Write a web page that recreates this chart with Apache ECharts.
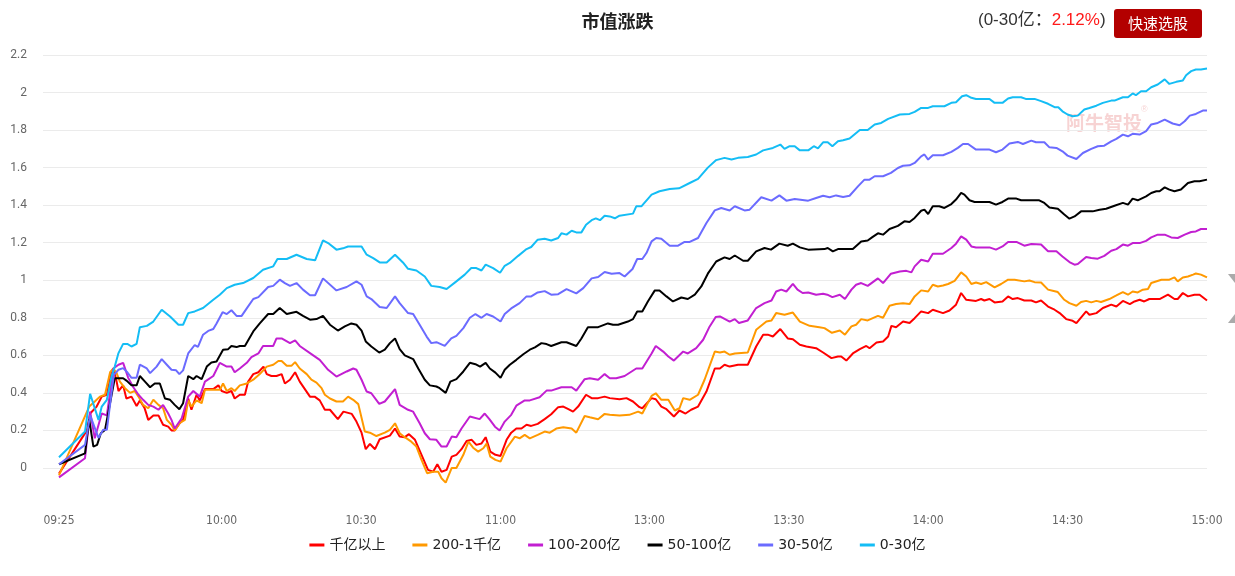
<!DOCTYPE html>
<html><head><meta charset="utf-8">
<script src="https://cdn.jsdelivr.net/npm/echarts@6/dist/echarts.min.js"></script>
<style>html,body{margin:0;padding:0;background:#fff}#c{width:1235px;height:576px}</style>
</head><body><div id="c"></div>
<script>
// x positions are minute indices: 09:25 = 0, 11:30 = 125, 13:00 = 127, 15:00 = 247
const tickIdx = [0, 35, 65, 95, 127, 157, 187, 217, 247];
const tickLabels = ['09:25','10:00','10:30','11:00','13:00','13:30','14:00','14:30','15:00'];
const seriesNames = ['千亿以上','200-1千亿','100-200亿','50-100亿','30-50亿','0-30亿'];
const seriesColors = ['#ff0000','#ff9900','#c21fd1','#000000','#6b6bff','#14bdf5'];

const s1000 = [[0,-0.03],[6,0.20],[6.7,0.29],[8.1,0.327],[9.2,0.38],[10.3,0.39],[11.3,0.51],[11.7,0.53],[12.4,0.46],[12.8,0.41],[13.8,0.44],[14.5,0.37],[15.6,0.38],[16.7,0.33],[17.4,0.36],[18.4,0.32],[19.2,0.256],[20.3,0.28],[21.4,0.28],[22.4,0.23],[23.5,0.22],[24.2,0.20],[24.9,0.20],[26,0.24],[26.7,0.256],[27.8,0.37],[28.5,0.31],[29.6,0.39],[30.3,0.36],[31.4,0.42],[33.2,0.42],[34.3,0.44],[35,0.41],[36.1,0.40],[37.1,0.41],[37.8,0.37],[38.9,0.39],[40,0.39],[40.7,0.46],[41.8,0.50],[42.9,0.51],[44,0.54],[44.7,0.50],[45.7,0.49],[46.8,0.49],[47.9,0.50],[48.6,0.45],[49.7,0.47],[50.8,0.51],[51.8,0.46],[52.9,0.42],[54,0.38],[55,0.38],[56.1,0.36],[57.2,0.31],[58.3,0.31],[60,0.26],[61.2,0.30],[63,0.288],[64,0.247],[65.1,0.188],[66,0.10],[66.9,0.128],[68,0.10],[69,0.153],[71.2,0.172],[72.3,0.21],[73.3,0.167],[74.4,0.164],[75.3,0.18],[76.6,0.15],[78,0.07],[79.4,-0.01],[80.5,-0.02],[81.4,0.02],[82.3,-0.02],[83.4,-0.01],[84.5,0.06],[85.5,0.07],[86.6,0.10],[87.7,0.144],[88.8,0.15],[89.8,0.123],[90.9,0.13],[91.8,0.164],[92.8,0.087],[93.9,0.07],[95,0.064],[96.3,0.15],[97.3,0.188],[98.4,0.21],[99.5,0.21],[100.6,0.23],[101.6,0.224],[103,0.235],[104.5,0.26],[105.9,0.286],[107.4,0.324],[108.5,0.327],[109.6,0.313],[110.6,0.30],[111.7,0.327],[113.4,0.39],[114.6,0.372],[116,0.372],[117.4,0.38],[118.5,0.372],[120.6,0.366],[122.1,0.372],[123.5,0.354],[124.9,0.324],[125.5,0.318],[127.5,0.372],[128.4,0.366],[129.6,0.327],[130.7,0.313],[132.3,0.274],[133.5,0.306],[134.8,0.29],[136,0.31],[137.5,0.327],[139.3,0.407],[141.1,0.53],[142.2,0.53],[143.2,0.55],[144.3,0.54],[146.1,0.55],[148.2,0.55],[150,0.647],[151.5,0.71],[152.5,0.71],[153.6,0.70],[155.2,0.74],[156.8,0.69],[157.9,0.686],[159.4,0.656],[160.8,0.647],[162.9,0.638],[164.4,0.615],[166.2,0.585],[167.6,0.594],[168.3,0.594],[169.4,0.572],[170.8,0.61],[172.3,0.633],[173.7,0.65],[174.4,0.638],[175.9,0.668],[177.3,0.674],[178.4,0.70],[179.1,0.757],[180.1,0.75],[181.6,0.78],[183,0.772],[184.1,0.798],[185.5,0.834],[187,0.825],[188,0.843],[190.2,0.825],[191.6,0.839],[193,0.87],[194.1,0.932],[195.2,0.896],[197.3,0.89],[198.4,0.90],[199.1,0.892],[200.2,0.90],[201.3,0.882],[203,0.887],[204.2,0.914],[205.2,0.90],[206.3,0.905],[207.7,0.892],[209.2,0.892],[210.2,0.882],[211.3,0.892],[212.8,0.86],[214.2,0.843],[215.3,0.825],[216.7,0.793],[218.1,0.784],[218.9,0.772],[221,0.834],[221.7,0.816],[223.2,0.825],[224.6,0.852],[226.4,0.87],[227.5,0.86],[228.9,0.89],[230.4,0.873],[231.4,0.887],[232.5,0.896],[233.5,0.887],[234.6,0.90],[236.8,0.90],[238.6,0.923],[240,0.90],[240.7,0.90],[241.8,0.932],[242.9,0.914],[244.3,0.923],[245.4,0.923],[247,0.892]];

const s200 = [[0,-0.04],[6.5,0.327],[7.7,0.354],[8.8,0.38],[9.9,0.39],[11,0.51],[11.7,0.53],[12.4,0.505],[13.1,0.46],[14.2,0.425],[15.3,0.40],[16.3,0.41],[17.1,0.38],[18.1,0.336],[19.2,0.318],[20.3,0.363],[21.4,0.336],[22.4,0.318],[23.2,0.256],[24.2,0.23],[24.9,0.20],[26,0.24],[27.1,0.256],[27.8,0.36],[28.5,0.327],[29.6,0.36],[30.7,0.345],[31.4,0.416],[33.2,0.416],[34.6,0.416],[35.3,0.45],[36.1,0.41],[37.1,0.425],[37.8,0.41],[38.9,0.44],[40.4,0.45],[41.8,0.47],[43.2,0.50],[44.7,0.54],[46.1,0.55],[47.2,0.57],[47.9,0.57],[49,0.544],[50,0.544],[50.8,0.564],[51.8,0.53],[53.3,0.50],[54.3,0.47],[55.4,0.455],[56.5,0.425],[57.2,0.39],[58.3,0.37],[59.7,0.354],[61.1,0.354],[62.2,0.38],[63.3,0.363],[64.4,0.34],[65.8,0.194],[66.9,0.188],[68.3,0.17],[70.1,0.188],[71.2,0.203],[72.3,0.238],[73.3,0.185],[74.4,0.164],[75.8,0.14],[76.9,0.114],[78,0.043],[79.2,-0.028],[80.5,-0.02],[81.6,-0.02],[82.3,-0.055],[83.2,-0.078],[84.5,0],[85.5,0],[87,0.07],[88.1,0.14],[89.1,0.108],[90.2,0.087],[91.3,0.105],[92,0.13],[92.8,0.06],[93.9,0.043],[95,0.034],[96.3,0.105],[98.1,0.167],[99.1,0.158],[100.2,0.176],[101.3,0.158],[103,0.176],[104.5,0.194],[105.6,0.188],[107,0.21],[108.5,0.217],[110.3,0.21],[111.3,0.188],[113.1,0.277],[114.2,0.27],[116,0.26],[117.4,0.288],[118.5,0.283],[120.6,0.28],[122.7,0.283],[124.6,0.30],[125.5,0.29],[127.5,0.384],[128.4,0.398],[129.6,0.363],[131.1,0.363],[132.5,0.306],[133.5,0.318],[134.3,0.372],[135.7,0.363],[137.5,0.39],[138.9,0.47],[141.1,0.62],[142.2,0.615],[143.2,0.62],[144.3,0.603],[145.4,0.61],[148.2,0.615],[150,0.736],[152.2,0.78],[153.3,0.786],[154.3,0.825],[156.1,0.816],[157.9,0.828],[159.4,0.78],[161.5,0.757],[163.6,0.75],[164.7,0.745],[166.3,0.72],[168,0.732],[169.1,0.71],[170.5,0.754],[171.5,0.763],[172.6,0.793],[174,0.786],[176.2,0.81],[177.3,0.80],[178.7,0.864],[180.1,0.873],[181.6,0.878],[183,0.873],[184.1,0.914],[185.5,0.946],[187,0.94],[188,0.976],[189.1,0.967],[190.2,0.972],[191.3,0.98],[192.7,0.997],[194.1,1.042],[195.2,1.02],[196.3,0.98],[197.3,0.988],[198.4,0.98],[199.5,0.99],[201.3,0.962],[202.7,0.98],[204.2,1.003],[205.6,1.003],[207.7,0.994],[208.8,0.999],[209.9,0.99],[211.3,0.988],[212.8,0.95],[213.8,0.944],[214.9,0.937],[216.3,0.896],[217.4,0.878],[218.9,0.864],[219.9,0.884],[221,0.89],[222.1,0.882],[223.2,0.89],[224.2,0.884],[226,0.90],[227.5,0.919],[228.9,0.937],[230,0.923],[231,0.94],[232.1,0.935],[233.2,0.95],[234.3,0.953],[235,0.985],[237.2,1.003],[238.9,1.003],[240,1.015],[240.7,0.994],[241.8,1.015],[242.9,1.02],[244,1.03],[244.6,1.036],[245.7,1.03],[247,1.015]];

const s100 = [[0,-0.05],[5.6,0.052],[6.7,0.30],[7.7,0.158],[9.2,0.29],[10.3,0.28],[11.7,0.53],[12.8,0.55],[13.8,0.56],[14.9,0.48],[16,0.43],[17.1,0.39],[18.1,0.363],[19.2,0.336],[20.3,0.327],[21.4,0.31],[22.4,0.336],[23.5,0.29],[24.2,0.256],[24.9,0.21],[26.4,0.265],[27.8,0.38],[28.9,0.41],[30.3,0.38],[31.4,0.46],[33.2,0.49],[34.6,0.56],[36.1,0.54],[37.1,0.54],[37.8,0.51],[38.9,0.53],[40.4,0.56],[41.4,0.59],[42.9,0.61],[43.9,0.65],[46.1,0.65],[46.8,0.69],[47.9,0.69],[49.7,0.665],[50.8,0.68],[51.8,0.65],[54.7,0.60],[56.1,0.576],[57.9,0.523],[59.7,0.487],[61.9,0.514],[63.3,0.53],[64,0.523],[65.1,0.47],[66.2,0.407],[67.2,0.398],[68.9,0.341],[70.1,0.354],[72.3,0.42],[73.3,0.336],[75.1,0.31],[76.2,0.30],[77.6,0.238],[78.7,0.185],[79.8,0.153],[81.2,0.15],[82.3,0.114],[83.4,0.114],[84.5,0.167],[85.5,0.164],[86.6,0.21],[88.4,0.274],[90.5,0.26],[91.6,0.29],[92.6,0.26],[93.8,0.22],[94.8,0.20],[95.9,0.247],[97.3,0.283],[98.4,0.332],[100.2,0.36],[101.3,0.36],[103.4,0.377],[104.9,0.412],[105.9,0.412],[108.1,0.43],[110.3,0.43],[111.3,0.412],[113.1,0.473],[114.2,0.478],[116,0.47],[117.4,0.50],[118.5,0.478],[119.9,0.478],[121.7,0.49],[123.2,0.514],[124.2,0.53],[125.5,0.53],[127.5,0.61],[128.4,0.65],[130,0.62],[131.1,0.594],[132.3,0.572],[134.3,0.62],[135.3,0.61],[137.1,0.638],[138.6,0.683],[140,0.754],[141.3,0.804],[142.2,0.807],[144.3,0.78],[145.4,0.793],[146.3,0.772],[148.2,0.786],[150,0.852],[151.8,0.878],[153.3,0.892],[154.3,0.94],[155.4,0.95],[156.5,0.94],[157.9,0.981],[158.9,0.95],[160,0.932],[161.2,0.935],[162.9,0.923],[164.4,0.928],[165.3,0.923],[166.4,0.91],[168,0.923],[169.1,0.90],[170.5,0.95],[171.5,0.976],[172.6,0.985],[174,0.97],[176.2,1.01],[177.3,0.985],[179,1.035],[180.9,1.047],[182.3,1.05],[183.4,1.042],[184.1,1.074],[185.5,1.109],[187,1.10],[188,1.141],[190.2,1.141],[192,1.172],[193,1.195],[194.1,1.234],[195.2,1.216],[196.3,1.18],[197.3,1.175],[200.2,1.175],[201.6,1.163],[203,1.18],[204.2,1.204],[206,1.204],[207.7,1.184],[209.2,1.193],[211.3,1.19],[212.8,1.154],[214.6,1.154],[215.9,1.127],[217.4,1.097],[218.5,1.083],[219.2,1.086],[221,1.124],[222.1,1.118],[223.5,1.115],[224.9,1.13],[226.4,1.157],[227.5,1.166],[228.9,1.19],[230,1.184],[231,1.198],[232.5,1.198],[233.9,1.21],[235,1.228],[236.4,1.243],[237.9,1.243],[239.3,1.228],[240.7,1.225],[242.2,1.243],[243.6,1.257],[244.6,1.26],[245.7,1.273],[247,1.273]];

const s50 = [[0,0.02],[5.6,0.078],[6.5,0.26],[7.4,0.114],[8.2,0.123],[9,0.185],[9.9,0.203],[12,0.478],[13.8,0.478],[14.6,0.464],[15.6,0.44],[16.7,0.44],[17.4,0.49],[18.5,0.46],[19.6,0.43],[20.6,0.45],[21.7,0.45],[22.8,0.37],[23.9,0.363],[24.9,0.336],[25.9,0.313],[26.7,0.345],[27.8,0.49],[28.9,0.473],[29.6,0.49],[30.7,0.473],[31.8,0.54],[32.8,0.562],[33.9,0.567],[35.3,0.63],[36.4,0.633],[37.1,0.65],[38.2,0.644],[38.9,0.65],[40,0.65],[41.8,0.727],[43.2,0.77],[45,0.82],[46.1,0.82],[47.5,0.852],[49,0.82],[51.1,0.832],[52.5,0.81],[54,0.79],[55.4,0.793],[56.8,0.81],[58.3,0.763],[60,0.732],[61.5,0.754],[62.9,0.77],[64,0.763],[65.1,0.732],[66,0.674],[67.2,0.647],[68.9,0.615],[70.1,0.63],[71.2,0.665],[72.3,0.69],[73.3,0.633],[74.4,0.60],[76.2,0.58],[77.3,0.53],[78.7,0.47],[79.8,0.44],[81.2,0.434],[81.9,0.425],[83.2,0.40],[84.2,0.46],[85.5,0.473],[87,0.514],[88.4,0.56],[89.6,0.553],[90.6,0.54],[91.8,0.56],[92.7,0.53],[93.9,0.508],[95,0.48],[95.9,0.523],[97,0.55],[98.4,0.576],[99.9,0.606],[101.3,0.63],[102.4,0.642],[103.8,0.665],[104.9,0.66],[105.9,0.65],[108.1,0.67],[109.2,0.67],[111.3,0.65],[112.4,0.69],[113.8,0.75],[116,0.75],[118.1,0.77],[119.2,0.763],[120.3,0.763],[122.4,0.78],[123.5,0.793],[124.4,0.834],[125.5,0.834],[126.7,0.887],[128.2,0.946],[129.2,0.946],[130.7,0.914],[132.1,0.887],[133.9,0.908],[135.3,0.90],[136.8,0.923],[138.2,0.967],[139.6,1.035],[141.4,1.10],[143.2,1.122],[144.3,1.113],[145.4,1.132],[147.2,1.104],[148.2,1.104],[150,1.154],[151.8,1.172],[153.2,1.163],[155,1.195],[156.8,1.184],[157.9,1.195],[159.4,1.175],[161.2,1.163],[164.7,1.166],[165.4,1.172],[166.5,1.154],[167.6,1.166],[170.8,1.166],[172.6,1.207],[174,1.212],[175,1.23],[176.2,1.25],[177.3,1.243],[178.7,1.273],[180.5,1.29],[181.9,1.314],[183,1.31],[184.1,1.332],[185.5,1.37],[186.2,1.376],[187,1.353],[188,1.394],[189.4,1.394],[190.5,1.385],[192,1.406],[193,1.43],[194.1,1.465],[194.8,1.456],[195.9,1.426],[197,1.417],[200.2,1.417],[201.6,1.403],[203,1.417],[204.2,1.435],[206,1.435],[207,1.426],[210.9,1.426],[212,1.412],[213.1,1.388],[214.9,1.381],[216.3,1.35],[217.4,1.328],[218.5,1.34],[219.9,1.367],[222.4,1.367],[223.9,1.376],[225.3,1.381],[227.1,1.397],[228.9,1.412],[230,1.403],[231,1.435],[232.1,1.426],[233.9,1.447],[235,1.465],[236.1,1.474],[236.8,1.474],[237.9,1.495],[238.9,1.483],[240,1.474],[241.4,1.483],[242.9,1.518],[244.3,1.527],[245.4,1.527],[247,1.536]];

const s30 = [[0,0.02],[5.6,0.123],[6.7,0.28],[8.5,0.16],[9.5,0.203],[10.3,0.203],[11.8,0.496],[12.8,0.523],[13.8,0.532],[14.7,0.51],[15.6,0.48],[16.7,0.48],[17.4,0.55],[18.9,0.53],[19.6,0.505],[21,0.54],[22.1,0.58],[23.2,0.55],[24.2,0.523],[25.2,0.52],[25.9,0.50],[26.7,0.52],[27.8,0.61],[29.2,0.655],[29.9,0.645],[31,0.71],[32.1,0.73],[33.2,0.74],[33.9,0.77],[35.2,0.83],[36.1,0.82],[37.1,0.84],[38.2,0.81],[39.3,0.81],[40.4,0.85],[41.8,0.90],[42.9,0.91],[45,0.964],[46.1,0.97],[47.5,1.003],[48.6,0.985],[49.7,0.97],[51.1,0.985],[52.5,0.95],[54,0.92],[55.1,0.92],[56.8,1.01],[59.7,0.946],[61.9,0.964],[64,0.994],[65.1,0.976],[66.2,0.914],[67.2,0.90],[69,0.857],[70.5,0.852],[72.3,0.914],[73.3,0.878],[75.1,0.825],[76.2,0.82],[77.6,0.763],[79.1,0.70],[80.1,0.665],[81.2,0.67],[83,0.65],[84.4,0.69],[85.5,0.704],[87,0.745],[88.4,0.80],[89.6,0.82],[90.9,0.80],[92,0.82],[93.4,0.807],[95,0.78],[95.9,0.82],[97.3,0.85],[99.1,0.878],[100.6,0.914],[101.6,0.914],[103,0.935],[104.5,0.942],[105.9,0.923],[107.4,0.926],[109.2,0.953],[111.3,0.93],[112.8,0.958],[114.6,1.01],[116,1.017],[117.4,1.044],[118.9,1.035],[120.6,1.038],[121.7,1.02],[123.4,1.06],[124.4,1.113],[125.5,1.113],[126.4,1.145],[127.5,1.207],[128.5,1.225],[129.6,1.221],[131.4,1.184],[133.2,1.184],[134.6,1.204],[135.7,1.204],[137.5,1.225],[139.3,1.305],[141.1,1.372],[142.5,1.385],[144.3,1.372],[145.4,1.394],[147.5,1.372],[148.6,1.376],[151.1,1.442],[153.3,1.424],[155,1.452],[156.5,1.424],[158.3,1.433],[161.2,1.424],[162.9,1.438],[164.4,1.45],[165.8,1.442],[167.2,1.452],[168.7,1.444],[170.1,1.45],[171.9,1.50],[173.3,1.536],[174.4,1.536],[175.5,1.554],[177.3,1.554],[179,1.572],[180.5,1.598],[181.6,1.61],[183,1.612],[184.1,1.625],[185.5,1.66],[186.2,1.67],[187,1.643],[188,1.666],[190.2,1.666],[192,1.684],[193.4,1.705],[194.5,1.726],[195.6,1.726],[197.3,1.696],[200.2,1.696],[201.6,1.682],[203,1.696],[204.5,1.728],[206.3,1.737],[207.4,1.726],[209.2,1.744],[210.2,1.735],[212,1.735],[213.1,1.708],[214.6,1.705],[215.9,1.687],[217,1.664],[218.9,1.646],[220.3,1.678],[222.1,1.70],[223.5,1.714],[224.9,1.717],[226.4,1.74],[227.5,1.753],[228.9,1.776],[230,1.767],[231,1.78],[232.5,1.776],[233.9,1.794],[235,1.83],[236.4,1.838],[237.9,1.856],[239.6,1.835],[241.1,1.826],[242.2,1.847],[243.3,1.877],[244.6,1.886],[246.1,1.904],[247,1.904]];

const s0 = [[0,0.057],[5.6,0.194],[6.7,0.395],[8.5,0.256],[9.2,0.327],[10.3,0.363],[11.3,0.487],[12,0.54],[12.8,0.612],[13.8,0.661],[14.7,0.661],[15.6,0.647],[16.7,0.661],[17.4,0.75],[18.9,0.757],[20.3,0.78],[22.1,0.843],[23.9,0.807],[25.7,0.763],[26.7,0.763],[27.8,0.825],[29.2,0.834],[31,0.852],[33.2,0.896],[34.6,0.923],[36.1,0.958],[37.8,0.976],[39.6,0.985],[41.8,1.012],[43.9,1.056],[46.1,1.074],[47,1.113],[49,1.113],[51.1,1.136],[53.3,1.113],[55.1,1.106],[56.8,1.212],[57.9,1.198],[59.7,1.163],[61.1,1.17],[62.2,1.18],[65.1,1.18],[66.2,1.136],[67.6,1.118],[69,1.095],[70.5,1.095],[72.3,1.136],[74,1.095],[75.1,1.061],[76.9,1.052],[78.7,1.02],[80.1,0.97],[81.9,0.964],[83.4,0.953],[85.5,0.994],[87.3,1.03],[88.7,1.065],[89.8,1.065],[90.9,1.052],[91.8,1.083],[93.4,1.065],[94.9,1.04],[95.9,1.077],[97,1.092],[98.8,1.13],[100.6,1.166],[101.6,1.177],[103,1.216],[104.5,1.221],[105.9,1.212],[107.4,1.225],[108.1,1.25],[109.2,1.243],[110.3,1.264],[111.3,1.255],[112.4,1.255],[113.4,1.296],[114.6,1.32],[115.5,1.33],[116.4,1.32],[117.4,1.344],[118.5,1.34],[119.6,1.33],[120.6,1.344],[123.5,1.355],[124.2,1.394],[125.3,1.394],[127.5,1.456],[129.2,1.474],[131.4,1.486],[133.4,1.49],[135.7,1.518],[137.5,1.54],[139.6,1.6],[141.4,1.64],[143.2,1.652],[144.7,1.643],[146.1,1.652],[148.2,1.657],[150,1.67],[151.5,1.692],[153.6,1.705],[155.2,1.723],[156.1,1.70],[157.2,1.714],[158.3,1.714],[159.4,1.692],[161.2,1.692],[162.4,1.714],[163.3,1.703],[164.4,1.735],[165.4,1.735],[166.4,1.714],[167.6,1.74],[168.7,1.746],[170.1,1.755],[172.3,1.80],[174,1.80],[175.5,1.83],[176.9,1.838],[178.4,1.86],[180.9,1.883],[183,1.886],[184.1,1.897],[185.5,1.918],[187,1.918],[188,1.927],[190.5,1.927],[192,1.945],[193,1.948],[194.3,1.98],[195.2,1.986],[196.3,1.972],[197.3,1.966],[200.2,1.966],[201.3,1.945],[203,1.945],[204.2,1.968],[205.2,1.975],[207,1.975],[208,1.966],[209.9,1.966],[211.3,1.954],[212.8,1.94],[214.2,1.922],[215,1.922],[215.9,1.90],[217,1.883],[218.1,1.874],[219.2,1.877],[220.6,1.91],[221.7,1.918],[223.2,1.93],[224.6,1.945],[226.4,1.957],[227.1,1.957],[228.9,1.975],[230,1.975],[231,1.995],[231.7,1.986],[232.8,2.007],[233.9,2.007],[235,2.028],[236.4,2.043],[237.9,2.07],[238.9,2.046],[240.4,2.057],[241.8,2.064],[242.5,2.092],[243.6,2.114],[244.6,2.123],[245.7,2.123],[247,2.128]];

const allSeries = [s1000, s200, s100, s50, s30, s0];
const labelMap = {};
tickIdx.forEach((v, k) => { labelMap[v] = tickLabels[k]; });

const chart = echarts.init(document.getElementById('c'), null, {renderer: 'canvas'});
chart.setOption({
  animation: false,
  backgroundColor: '#fff',
  title: {
    text: '市值涨跌', left: 'center', top: 7,
    textStyle: {fontSize: 18, fontWeight: 'bold', color: '#222', fontFamily: 'Noto Sans CJK SC'}
  },
  grid: {left: 43, right: 28, top: 55, bottom: 70.5},
  legend: {
    bottom: 19, left: 'center', itemGap: 27, itemWidth: 15, itemHeight: 3, icon: 'rect',
    textStyle: {fontSize: 14, color: '#222', fontFamily: 'DejaVu Sans, Noto Sans CJK SC'},
    data: seriesNames
  },
  xAxis: {
    type: 'value', min: -3.44, max: 247,
    axisLine: {show: false}, axisTick: {show: false}, splitLine: {show: false},
    axisLabel: {
      customValues: tickIdx, margin: 9, fontSize: 12, color: '#666',
      fontFamily: 'DejaVu Sans Condensed, sans-serif',
      formatter: v => labelMap[v] || ''
    }
  },
  yAxis: {
    type: 'value', min: -0.2, max: 2.2, interval: 0.2,
    axisLine: {show: false}, axisTick: {show: false},
    splitLine: {show: true, showMinLine: false, lineStyle: {color: '#ebebeb', width: 1}},
    axisLabel: {showMinLabel: false, margin: 16, fontSize: 12, color: '#666', fontFamily: 'Roboto, sans-serif'}
  },
  series: seriesNames.map((n, k) => ({
    name: n, type: 'line', data: allSeries[k], showSymbol: false, symbol: 'none',
    color: seriesColors[k], lineStyle: {width: 2, color: seriesColors[k]}
  })),
  graphic: [
    {type: 'text', left: 978, top: 12, style: {
      text: '{a|(0-30亿：}{b|2.12%}{a|)}',
      rich: {
        a: {fontSize: 17, fill: '#333', fontFamily: 'Liberation Sans, Noto Sans CJK SC'},
        b: {fontSize: 17, fill: '#ff1a1a', fontFamily: 'Liberation Sans, Noto Sans CJK SC'}
      }
    }},
    {type: 'rect', shape: {x: 1114, y: 9, width: 88, height: 29, r: 3}, style: {fill: '#b30000'}},
    {type: 'text', x: 1158, y: 23.5, style: {text: '快速选股', fill: '#fff', fontSize: 15, align: 'center', verticalAlign: 'middle', fontFamily: 'Noto Sans CJK SC'}},
    {type: 'text', x: 1066, y: 123, z: -1, style: {text: '阿牛智投', fill: 'rgba(230,120,120,0.33)', fontSize: 19, fontWeight: 'bold', verticalAlign: 'middle', fontFamily: 'Noto Sans CJK SC'}},
    {type: 'text', x: 1141, y: 110, z: -1, style: {text: '®', fill: 'rgba(230,120,120,0.33)', fontSize: 9, verticalAlign: 'middle'}},
    {type: 'polygon', shape: {points: [[1228,274],[1235,274],[1235,283]]}, style: {fill: '#aaa'}},
    {type: 'polygon', shape: {points: [[1228,323],[1235,323],[1235,314]]}, style: {fill: '#aaa'}}
  ]
});
</script>
</body></html>
